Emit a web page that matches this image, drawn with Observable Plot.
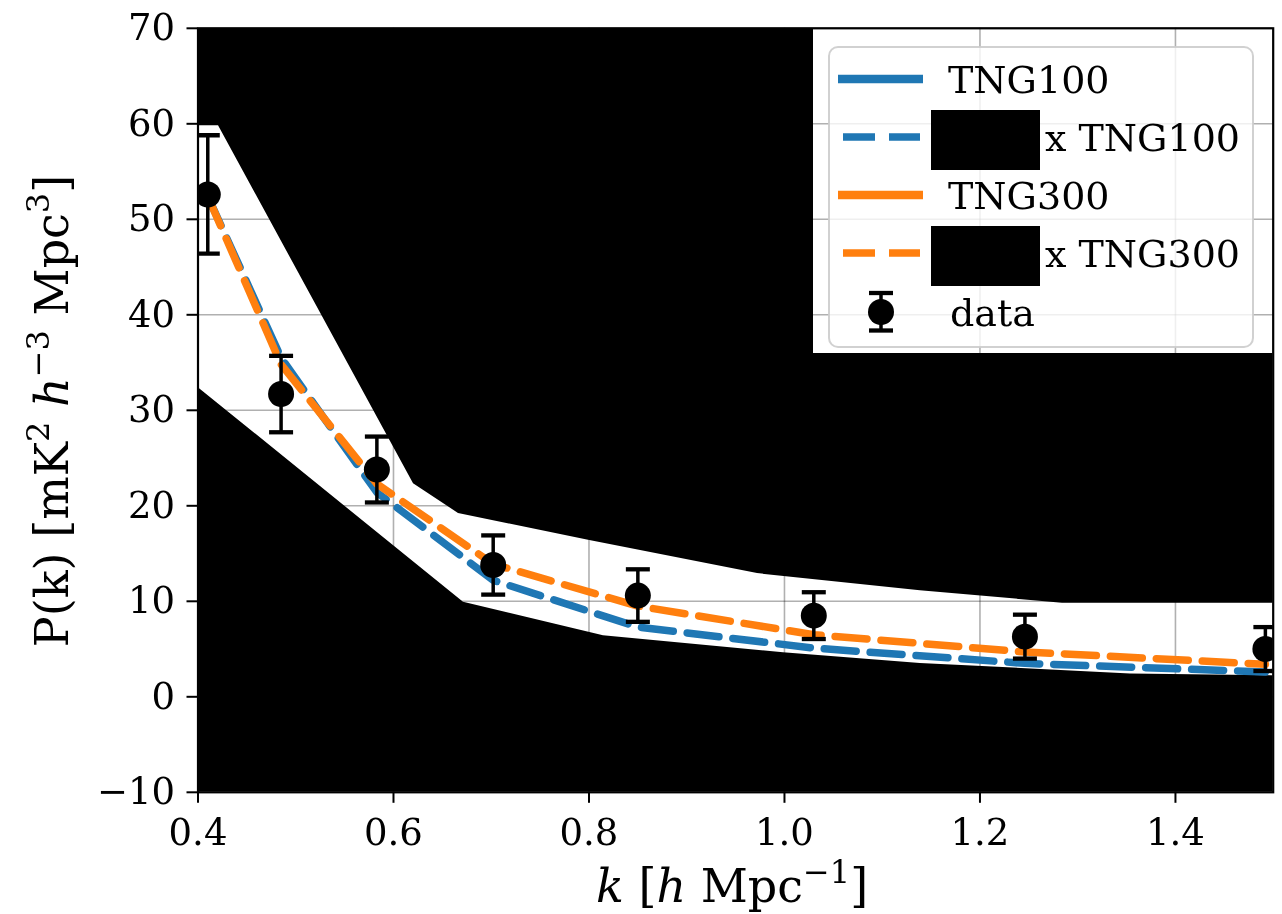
<!DOCTYPE html>
<html><head><meta charset="utf-8">
<script src="https://cdn.jsdelivr.net/npm/d3@7"></script>
<script src="https://cdn.jsdelivr.net/npm/@observablehq/plot@0.6"></script>
<style>html,body{margin:0;padding:0;background:#fff;} #chart{width:1282px;height:914px;}</style>
</head><body><div id="chart"></div>
<script>
// ---- data ----
const kValues      = [0.410, 0.485, 0.583, 0.702, 0.850, 1.030, 1.246, 1.492];
const dataP        = [52.6, 31.7, 23.8, 13.8, 10.6, 8.5, 6.3, 5.0];
const dataErr      = [6.2, 4.0, 3.45, 3.1, 2.75, 2.45, 2.3, 2.3];
const modelTNG100  = [52.4, 35.5, 21.4, 12.2, 7.3, 5.1, 3.5, 2.6];
const modelTNG300  = [52.4, 34.8, 22.3, 13.9, 9.5, 6.5, 4.7, 3.4];
const bandUpperK   = [0.400, 0.421, 0.6205, 0.6665, 0.7995, 0.9724, 1.139, 1.2844, 1.500];
const bandUpperP   = [59.8, 59.8, 22.3, 19.2, 16.4, 12.9, 11.1, 9.8, 9.8];
const bandLowerK   = [0.400, 0.6716, 0.8148, 0.999, 1.139, 1.354, 1.500];
const bandLowerP   = [32.4, 9.9, 6.4, 4.6, 3.5, 2.4, 2.2];
const xTicks       = [0.4, 0.6, 0.8, 1.0, 1.2, 1.4];
const yTicks       = [-10, 0, 10, 20, 30, 40, 50, 60, 70];
const legendLabels = ["TNG100", "x TNG100", "TNG300", "x TNG300", "data"];

const BLUE = "#1f77b4", ORANGE = "#ff7f0e";
const FONT = "'DejaVu Serif', serif";
const points = kValues.map((k, i) => ({k, p: dataP[i], lo: dataP[i] - dataErr[i], hi: dataP[i] + dataErr[i]}));
const m100 = kValues.map((k, i) => ({k, p: modelTNG100[i]}));
const m300 = kValues.map((k, i) => ({k, p: modelTNG300[i]}));
const upper = bandUpperK.map((k, i) => ({k, p: bandUpperP[i]}));
const lower = bandLowerK.map((k, i) => ({k, p: bandLowerP[i]}));

const capSymbol = {draw(ctx, size) { const r = Math.sqrt(size / Math.PI); ctx.moveTo(-r, 0); ctx.lineTo(r, 0); }};
const gridStyle = {stroke: "#b0b0b0", strokeOpacity: 1, strokeWidth: 1.6, mixBlendMode: "multiply"};

const chart = Plot.plot({
  width: 1282, height: 914,
  marginLeft: 197.5, marginRight: 9.3, marginTop: 27.8, marginBottom: 122.2,
  style: {fontFamily: FONT, fontSize: "37px", background: "white", color: "black"},
  x: {domain: [0.4, 1.5]},
  y: {domain: [-10, 70]},
  marks: [
    Plot.areaY(upper, {x: "k", y1: "p", y2: 70, fill: "black", clip: true}),
    Plot.areaY(lower, {x: "k", y1: -10, y2: "p", fill: "black", clip: true}),
    Plot.gridX(xTicks, gridStyle),
    Plot.gridY(yTicks, gridStyle),
    Plot.line(m100, {x: "k", y: "p", stroke: BLUE, strokeWidth: 7.5, strokeDasharray: "32,14", strokeLinejoin: "round", clip: true}),
    Plot.line(m300, {x: "k", y: "p", stroke: ORANGE, strokeWidth: 7.5, strokeDasharray: "32,14", strokeLinejoin: "round", clip: true}),
    Plot.ruleX(points, {x: "k", y1: "lo", y2: "hi", stroke: "black", strokeWidth: 3.5, clip: true}),
    Plot.dot(points, {x: "k", y: "hi", r: 12, symbol: capSymbol, stroke: "black", strokeWidth: 4.3, fill: "none", clip: true}),
    Plot.dot(points, {x: "k", y: "lo", r: 12, symbol: capSymbol, stroke: "black", strokeWidth: 4.3, fill: "none", clip: true}),
    Plot.dot(points, {x: "k", y: "p", r: 13, fill: "black", stroke: "none", clip: true}),
    Plot.frame({stroke: "black", strokeWidth: 2.2}),
    Plot.axisX({ticks: xTicks, tickFormat: d => d.toFixed(1), tickSize: 11, tickPadding: 15, strokeWidth: 2, label: null}),
    Plot.axisY({ticks: yTicks, tickSize: 11, tickPadding: 12, strokeWidth: 2, label: null})
  ]
});
document.getElementById("chart").appendChild(chart);

const svg = d3.select(chart);
const ns = "http://www.w3.org/2000/svg";

// white region behind legend (placed beneath the grid lines)
const gridNode = chart.querySelector("g[aria-label='x-grid']");
const bg = document.createElementNS(ns, "rect");
bg.setAttribute("x", 813); bg.setAttribute("y", 27.8);
bg.setAttribute("width", 1272.7 - 813); bg.setAttribute("height", 353 - 27.8);
bg.setAttribute("fill", "white");
if (gridNode) gridNode.parentNode.insertBefore(bg, gridNode); else chart.appendChild(bg);

// legend
const lg = svg.append("g").attr("font-family", FONT).attr("font-size", 38).attr("text-anchor", "start");
lg.append("rect").attr("x", 829).attr("y", 47).attr("width", 424).attr("height", 300).attr("rx", 9)
  .attr("fill", "white").attr("fill-opacity", 0.8).attr("stroke", "#cccccc").attr("stroke-opacity", 0.9).attr("stroke-width", 2);
const rowsY = [79, 137, 195, 253, 312];
const handles = [
  {color: BLUE, dash: null}, {color: BLUE, dash: "32,14"},
  {color: ORANGE, dash: null}, {color: ORANGE, dash: "32,14"}, {data: true}
];
handles.forEach((h, i) => {
  const y = rowsY[i];
  if (h.data) {
    lg.append("line").attr("x1", 881).attr("x2", 881).attr("y1", 293).attr("y2", 330.5).attr("stroke", "black").attr("stroke-width", 3.5);
    [293, 330.5].forEach(cy => lg.append("line").attr("x1", 869).attr("x2", 893).attr("y1", cy).attr("y2", cy).attr("stroke", "black").attr("stroke-width", 4.3));
    lg.append("circle").attr("cx", 881).attr("cy", y).attr("r", 13).attr("fill", "black");
  } else if (h.dash) {
    lg.append("line").attr("x1", 843).attr("x2", 920).attr("y1", y).attr("y2", y)
      .attr("stroke", h.color).attr("stroke-width", 7.5).attr("stroke-dasharray", h.dash);
  } else {
    lg.append("line").attr("x1", 838).attr("x2", 923).attr("y1", y).attr("y2", y)
      .attr("stroke", h.color).attr("stroke-width", 8.5);
  }
  if (h.dash) {
    lg.append("rect").attr("x", 931).attr("y", y - 27).attr("width", 109).attr("height", 60).attr("fill", "black");
    lg.append("text").attr("x", 1045).attr("y", y + 13.5).text(legendLabels[i]);
  } else {
    lg.append("text").attr("x", h.data ? 950 : 948).attr("y", y + 13.5).text(legendLabels[i]);
  }
});

// axis labels with italics and superscripts
function richText(parent, parts) {
  parts.forEach(p => {
    const t = parent.append("tspan").text(p.t);
    if (p.i) t.attr("font-style", "italic");
    if (p.sup) t.attr("font-size", 32).attr("dy", -19);
    if (p.after) t.attr("dy", 19);
  });
}
const xl = svg.append("text").attr("x", 732).attr("y", 902).attr("text-anchor", "middle")
  .attr("font-family", FONT).attr("font-size", 46);
richText(xl, [{t: "k", i: true}, {t: " [", }, {t: "h", i: true}, {t: " Mpc"}, {t: "\u22121", sup: true}, {t: "]", after: true}]);

const yl = svg.append("text").attr("transform", "translate(68,411) rotate(-90)").attr("text-anchor", "middle")
  .attr("font-family", FONT).attr("font-size", 46);
richText(yl, [{t: "P(k) [mK"}, {t: "2", sup: true}, {t: " ", after: true}, {t: "h", i: true}, {t: "\u22123", sup: true}, {t: " Mpc", after: true}, {t: "3", sup: true}, {t: "]", after: true}]);
</script>
</body></html>
